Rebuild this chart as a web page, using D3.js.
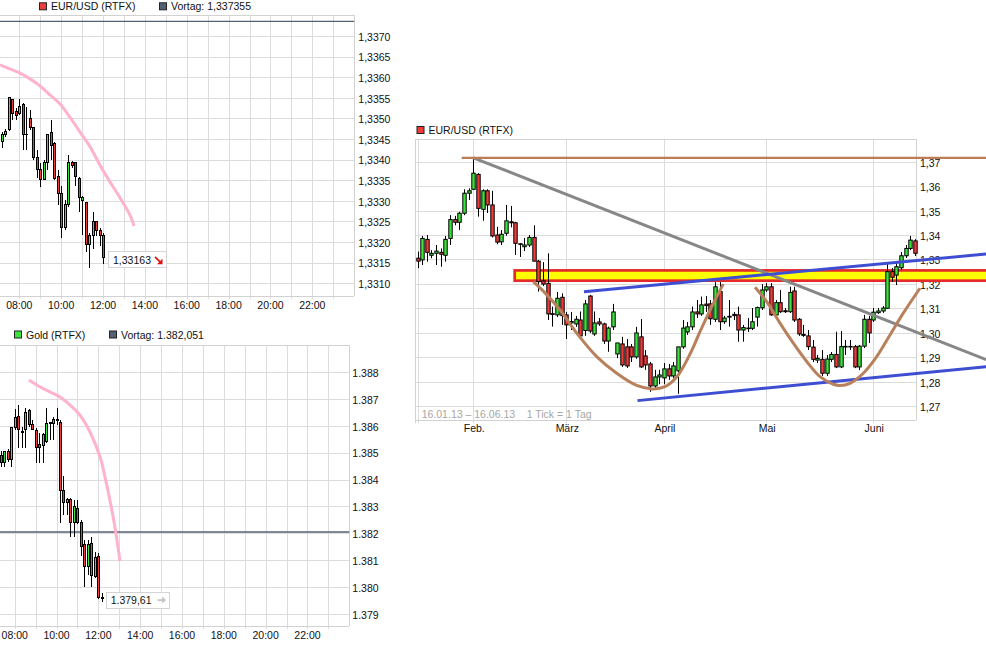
<!DOCTYPE html>
<html lang="de">
<head>
<meta charset="utf-8">
<script src="https://cdn.jsdelivr.net/npm/d3@7/dist/d3.min.js"></script>
<style>
html,body{margin:0;padding:0;background:#fff;}
svg{display:block;}
text{font-family:"Liberation Sans",Arial,sans-serif;font-size:10.5px;fill:#111;}
</style>
</head>
<body>
<svg id="chart" width="986" height="649" viewBox="0 0 986 649"></svg>
<script>
// ---------------- EUR/USD intraday (10-minute candles) ----------------
const eurTimes = ["07:10","07:20","07:30","07:40","07:50","08:00","08:10","08:20","08:30","08:40","08:50","09:00","09:10","09:20","09:30","09:40","09:50","10:00","10:10","10:20","10:30","10:40","10:50","11:00","11:10","11:20","11:30","11:40","11:50","12:00"];
const eurOpen  = [1.33443,1.33462,1.33472,1.33547,1.33516,1.33513,1.33533,1.33460,1.33499,1.33477,1.33406,1.33377,1.33353,1.33392,1.33465,1.33438,1.33358,1.33319,1.33236,1.33292,1.33392,1.33392,1.33355,1.33302,1.33297,1.33195,1.33217,1.33249,1.33229,1.33215];
const eurHigh  = [1.33467,1.33474,1.33550,1.33547,1.33525,1.33547,1.33537,1.33528,1.33520,1.33477,1.33423,1.33392,1.33399,1.33462,1.33496,1.33443,1.33375,1.33336,1.33302,1.33411,1.33397,1.33394,1.33358,1.33312,1.33297,1.33222,1.33273,1.33251,1.33234,1.33222];
const eurLow   = [1.33428,1.33455,1.33469,1.33496,1.33496,1.33508,1.33423,1.33423,1.33472,1.33399,1.33355,1.33334,1.33350,1.33375,1.33399,1.33350,1.33290,1.33210,1.33229,1.33285,1.33380,1.33336,1.33273,1.33217,1.33176,1.33137,1.33183,1.33215,1.33190,1.33147];
const eurClose = [1.33460,1.33469,1.33550,1.33513,1.33508,1.33528,1.33460,1.33462,1.33477,1.33406,1.33377,1.33353,1.33392,1.33460,1.33435,1.33355,1.33319,1.33236,1.33292,1.33392,1.33387,1.33358,1.33309,1.33309,1.33195,1.33217,1.33249,1.33229,1.33217,1.33163];
const eurPrev = 1.337355;
const eurLast = 1.33163;
const eurTrendTimes  = ["07:05","07:33","08:02","08:31","08:59","09:28","09:57","10:25","10:54","11:23","11:51","12:20","12:49","13:17","13:29"];
const eurTrendValues = [1.33630,1.33620,1.33610,1.33596,1.33579,1.33557,1.33535,1.33503,1.33467,1.33431,1.33387,1.33346,1.33307,1.33266,1.33239];
const eurYTicks = [1.3310,1.3315,1.3320,1.3325,1.3330,1.3335,1.3340,1.3345,1.3350,1.3355,1.3360,1.3365,1.3370];

// ---------------- Gold intraday (10-minute candles) ----------------
const goldTimes = ["07:20","07:30","07:40","07:50","08:00","08:10","08:20","08:30","08:40","08:50","09:00","09:10","09:20","09:30","09:40","09:50","10:00","10:10","10:20","10:30","10:40","10:50","11:00","11:10","11:20","11:30","11:40","11:50","12:00","12:10"];
const goldOpen  = [1384.88,1384.65,1385.06,1384.73,1385.92,1386.33,1385.79,1385.88,1386.55,1386.03,1385.84,1385.29,1385.25,1385.40,1386.10,1386.10,1386.20,1386.14,1383.61,1383.13,1383.24,1382.39,1382.94,1382.39,1381.57,1380.75,1381.61,1380.38,1381.12,1379.60];
const goldHigh  = [1385.06,1385.06,1385.14,1385.96,1386.62,1386.77,1385.96,1386.66,1386.62,1386.22,1385.92,1385.73,1385.73,1386.66,1386.14,1386.33,1386.66,1386.22,1384.13,1383.32,1383.32,1383.24,1383.24,1382.50,1381.76,1381.76,1381.87,1381.31,1381.27,1379.78];
const goldLow   = [1384.47,1384.47,1384.65,1384.47,1385.84,1385.17,1385.17,1385.17,1385.96,1385.84,1384.62,1384.62,1384.62,1385.36,1385.47,1385.47,1386.03,1382.39,1382.68,1382.68,1381.87,1381.87,1382.35,1381.16,1380.01,1380.45,1380.01,1380.34,1379.56,1379.45];
const goldClose = [1384.62,1385.03,1384.73,1385.92,1386.29,1385.88,1385.75,1386.48,1386.03,1385.88,1385.21,1385.21,1385.66,1386.10,1386.12,1386.22,1386.22,1383.61,1383.13,1383.24,1382.39,1382.98,1382.42,1381.50,1380.75,1381.57,1380.42,1381.09,1379.60,1379.61];
const goldPrev = 1382.051;
const goldLast = 1379.61;
const goldTrendTimes  = ["08:41","09:13","09:41","10:10","10:39","11:07","11:36","12:05","12:19","12:33","12:48","13:02"];
const goldTrendValues = [1387.70,1387.44,1387.26,1387.07,1386.77,1386.40,1385.77,1384.84,1384.10,1383.24,1382.20,1380.97];
const goldYTicks = [1379,1380,1381,1382,1383,1384,1385,1386,1387,1388];

const hourTicks = ["08:00","10:00","12:00","14:00","16:00","18:00","20:00","22:00"];

// ---------------- EUR/USD daily 16.01.13 - 16.06.13 ----------------
const dayDates = ["16.01","17.01","18.01","21.01","22.01","23.01","24.01","25.01","28.01","29.01","30.01","31.01",
"01.02","04.02","05.02","06.02","07.02","08.02","11.02","12.02","13.02","14.02","15.02","18.02","19.02","20.02","21.02","22.02","25.02","26.02","27.02","28.02",
"01.03","04.03","05.03","06.03","07.03","08.03","11.03","12.03","13.03","14.03","15.03","18.03","19.03","20.03","21.03","22.03","25.03","26.03","27.03","28.03","29.03",
"01.04","02.04","03.04","04.04","05.04","08.04","09.04","10.04","11.04","12.04","15.04","16.04","17.04","18.04","19.04","22.04","23.04","24.04","25.04","26.04","29.04","30.04",
"01.05","02.05","03.05","06.05","07.05","08.05","09.05","10.05","13.05","14.05","15.05","16.05","17.05","20.05","21.05","22.05","23.05","24.05","27.05","28.05","29.05","30.05","31.05",
"03.06","04.06","05.06","06.06","07.06","10.06","11.06","12.06","13.06","14.06"];
const dayOpen = [1.3305,1.3298,1.3382,1.3317,1.3325,1.3329,1.3317,1.3386,1.3463,1.3452,
 1.3489,1.3571,1.3587,1.3648,1.3505,1.3581,1.3523,1.3400,1.3372,1.3407,
 1.3454,1.3450,1.3364,1.3352,1.3359,1.3390,1.3293,1.3212,1.3202,1.3078,
 1.3073,1.3145,1.3073,1.3040,1.3036,1.3052,1.3009,1.3150,1.2995,1.3044,
 1.3036,1.2966,1.3024,1.2913,1.2954,1.2942,1.2942,1.2901,1.2983,1.2905,
 1.2872,1.2782,1.2819,1.2815,1.2852,1.2823,1.2844,1.2942,1.3003,1.3024,
 1.3085,1.3077,1.3117,1.3118,1.3055,1.3168,1.3045,1.3067,1.3075,1.3073,
 1.3011,1.3017,1.3018,1.3064,1.3102,1.3175,1.3188,1.3073,1.3123,1.3090,
 1.3086,1.3171,1.3055,1.2993,1.2987,1.2941,1.2888,1.2891,1.2834,1.2891,
 1.2911,1.2860,1.2943,1.2943,1.2943,1.2860,1.2945,1.3055,1.3052,1.3082,
 1.3089,1.3100,1.3250,1.3236,1.3266,1.3315,1.3345,1.3376];
const dayHigh = [1.3332,1.3396,1.3400,1.3338,1.3359,1.3345,1.3396,1.3481,1.3478,1.3495,
 1.3587,1.3591,1.3714,1.3653,1.3587,1.3587,1.3581,1.3434,1.3420,1.3523,
 1.3519,1.3454,1.3367,1.3388,1.3400,1.3440,1.3298,1.3289,1.3325,1.3107,
 1.3167,1.3161,1.3085,1.3085,1.3069,1.3087,1.3134,1.3154,1.3087,1.3060,
 1.3041,1.3025,1.3118,1.2958,1.2983,1.2974,1.2954,1.3024,1.3056,1.2929,
 1.2880,1.2848,1.2848,1.2876,1.2872,1.2880,1.2942,1.3052,1.3044,1.3107,
 1.3134,1.3148,1.3150,1.3134,1.3207,1.3207,1.3069,1.3134,1.3085,1.3107,
 1.3032,1.3060,1.3101,1.3107,1.3199,1.3203,1.3203,1.3134,1.3175,1.3101,
 1.3188,1.3188,1.3060,1.3032,1.3011,1.2970,1.2909,1.2929,1.2909,1.2921,
 1.3004,1.3007,1.2970,1.2970,1.2950,1.2950,1.3073,1.3069,1.3101,1.3101,
 1.3109,1.3289,1.3265,1.3285,1.3330,1.3359,1.3396,1.3383];
const dayLow = [1.3264,1.3277,1.3291,1.3305,1.3277,1.3270,1.3291,1.3359,1.3440,1.3420,
 1.3481,1.3543,1.3584,1.3475,1.3458,1.3490,1.3390,1.3362,1.3359,1.3397,
 1.3431,1.3318,1.3310,1.3334,1.3351,1.3291,1.3168,1.3191,1.3052,1.3025,
 1.3064,1.3032,1.2974,1.3011,1.3024,1.2973,1.2987,1.2999,1.2987,1.3028,
 1.2954,1.2922,1.3011,1.2896,1.2860,1.2856,1.2880,1.2893,1.2856,1.2848,
 1.2758,1.2766,1.2789,1.2789,1.2807,1.2815,1.2750,1.2934,1.2991,1.3011,
 1.3060,1.3069,1.3085,1.3032,1.3044,1.3011,1.3036,1.3025,1.3052,1.2963,
 1.2963,1.3003,1.3011,1.3025,1.3093,1.3167,1.3069,1.3060,1.3081,1.3081,
 1.3081,1.3044,1.2987,1.2983,1.2929,1.2880,1.2876,1.2823,1.2823,1.2880,
 1.2855,1.2855,1.2909,1.2929,1.2855,1.2847,1.2937,1.2958,1.3044,1.3077,
 1.3081,1.3097,1.3208,1.3195,1.3257,1.3306,1.3338,1.3314];
const dayClose = [1.3293,1.3386,1.3329,1.3325,1.3334,1.3321,1.3382,1.3463,1.3452,1.3489,
 1.3571,1.3581,1.3653,1.3509,1.3581,1.3523,1.3396,1.3371,1.3403,1.3458,
 1.3450,1.3366,1.3362,1.3359,1.3390,1.3293,1.3209,1.3199,1.3077,1.3075,
 1.3141,1.3070,1.3032,1.3046,1.3055,1.2987,1.3118,1.3007,1.3040,1.3036,
 1.2966,1.3019,1.3085,1.2958,1.2868,1.2864,1.2901,1.2999,1.2860,1.2868,
 1.2782,1.2819,1.2827,1.2852,1.2823,1.2864,1.2942,1.3019,1.3024,1.3085,
 1.3077,1.3114,1.3111,1.3057,1.3188,1.3045,1.3060,1.3064,1.3070,1.3011,
 1.3021,1.3019,1.3045,1.3103,1.3175,1.3188,1.3073,1.3123,1.3086,1.3086,
 1.3165,1.3052,1.2995,1.2989,1.2943,1.2891,1.2895,1.2834,1.2892,1.2911,
 1.2860,1.2943,1.2944,1.2944,1.2860,1.2945,1.3055,1.2999,1.3084,1.3089,
 1.3101,1.3250,1.3227,1.3270,1.3315,1.3345,1.3379,1.3325];
const monthTickDates  = ["01.02","01.03","01.04","01.05","03.06"];
const monthTickLabels = ["Feb.","März","April","Mai","Juni"];
const dayYTicks = [1.27,1.28,1.29,1.30,1.31,1.32,1.33,1.34,1.35,1.36,1.37];

// drawn annotations, positions in trading-day units
const resistIdx = [9.5, 122.3];      const resistVal = [1.3716, 1.3716];
const downTrendIdx = [12, 122.3];    const downTrendVal = [1.3716, 1.2890];
const chanUpIdx = [35.8, 122.3];     const chanUpVal = [1.3168, 1.3322];
const chanLowIdx = [47.3, 122.3];    const chanLowVal = [1.2722, 1.2861];
const zoneIdx = [20.9, 122.6];       const zoneVal = [1.3213, 1.3255];
const cup1Idx = [24.90,27.42,30.65,34.24,38.54,42.84,47.14,50.43,53.23,55.91,58.82,60.75,63.33,65.76];
const cup1Val = [1.3209,1.3163,1.3093,1.2998,1.2902,1.2834,1.2784,1.2770,1.2779,1.2823,1.2921,1.3004,1.3109,1.3199];
const cup2Idx = [72.58,75.10,77.96,80.82,83.70,86.56,89.42,90.86,93.01,95.87,98.75,101.61,104.47,108.06];
const cup2Val = [1.3186,1.3127,1.3039,1.2957,1.2882,1.2820,1.2789,1.2784,1.2793,1.2834,1.2902,1.2991,1.3080,1.3182];

// ======================= drawing =======================
const svg = d3.select("#chart");
const loc = d3.formatLocale({decimal:",", thousands:".", grouping:[3], currency:["","\u20ac"]});
const GRID = "#dcdcdc", FRAME = "#d2d2d2", UP = "#3de33d", DOWN = "#f03b3b", PREV = "#566074";
const toH = t => { const p = t.split(":").map(Number); return p[0] + p[1]/60; };
const px = v => Math.round(v) + 0.5;

function drawCandles(g, xs, O, H, L, C, x, y, w, crisp) {
  const data = xs.map((t,i) => ({t, o:O[i], h:H[i], l:L[i], c:C[i]}));
  const cg = g.append("g");
  if (crisp) cg.attr("shape-rendering","crispEdges");
  cg.selectAll("line").data(data).join("line")
    .attr("x1", d => px(x(d.t))).attr("x2", d => px(x(d.t)))
    .attr("y1", d => y(d.h)).attr("y2", d => y(d.l))
    .attr("stroke","#000").attr("stroke-width",1);
  cg.selectAll("rect").data(data).join("rect")
    .attr("x", d => px(x(d.t)) - w/2)
    .attr("y", d => Math.min(y(d.o), y(d.c)))
    .attr("width", w)
    .attr("height", d => Math.max(0.6, Math.abs(y(d.o) - y(d.c))))
    .attr("fill", d => d.c >= d.o ? UP : DOWN)
    .attr("stroke","#000").attr("stroke-width",1);
}

function legend(g, items, y) {
  items.forEach(it => {
    g.append("rect").attr("x", it.x + 0.5).attr("y", y - 7.5).attr("width", 7).attr("height", 7)
      .attr("fill", it.color).attr("stroke", "#222").attr("stroke-width", 1);
    g.append("text").attr("x", it.x + 12).attr("y", y).text(it.label);
  });
}

function intraday(cfg) {
  const g = svg.append("g");
  const f = cfg.frame;
  const x = d3.scaleLinear().domain([8, 24]).range(cfg.xr);
  const y = d3.scaleLinear().domain(cfg.yd).range(cfg.yr);
  const xt = t => x(toH(t));

  // grid
  const gg = g.append("g").attr("shape-rendering","crispEdges");
  gg.selectAll("line.v").data(d3.range(8, 24)).join("line").attr("class","v")
    .attr("x1", d => px(x(d))).attr("x2", d => px(x(d)))
    .attr("y1", f.top).attr("y2", f.bottom + 3).attr("stroke", GRID);
  gg.selectAll("line.h").data(cfg.yTicks).join("line").attr("class","h")
    .attr("x1", f.left).attr("x2", f.right)
    .attr("y1", d => px(y(d))).attr("y2", d => px(y(d))).attr("stroke", GRID);
  gg.append("line").attr("x1", f.left).attr("x2", f.right).attr("y1", px(f.top)).attr("y2", px(f.top)).attr("stroke", FRAME);
  gg.append("line").attr("x1", f.left).attr("x2", f.right).attr("y1", px(f.bottom)).attr("y2", px(f.bottom)).attr("stroke", FRAME);
  gg.append("line").attr("x1", px(f.right)).attr("x2", px(f.right)).attr("y1", f.top).attr("y2", f.bottom).attr("stroke", FRAME);

  // previous close line
  g.append("line").attr("x1", f.left).attr("x2", f.right)
    .attr("y1", y(cfg.prev)).attr("y2", y(cfg.prev))
    .attr("stroke", PREV).attr("stroke-width", 1.4);

  // axes labels
  g.append("g").selectAll("text").data(cfg.yTicks).join("text")
    .attr("x", cfg.labelX).attr("y", d => y(d) + 4.8).text(cfg.yFmt);
  g.append("g").selectAll("text").data(hourTicks).join("text")
    .attr("x", d => xt(d)).attr("y", cfg.xLabelY).attr("text-anchor","middle").text(d => d);

  // candles
  drawCandles(g, cfg.times, cfg.O, cfg.H, cfg.L, cfg.C, xt, y, 2, true);

  // projection curve
  const pts = cfg.trendT.map((t,i) => [xt(t), y(cfg.trendV[i])]);
  g.append("path").datum(pts).attr("d", d3.line().curve(d3.curveCatmullRom))
    .attr("fill","none").attr("stroke","#ffb2cc").attr("stroke-width",3);

  // last price box
  const bx = xt(cfg.times[cfg.times.length-1]) + cfg.boxDx;
  const by = y(cfg.last) - 6;
  g.append("rect").attr("x", px(bx)).attr("y", px(by)).attr("width", cfg.boxW).attr("height", 16)
    .attr("fill","#fff").attr("stroke","#d4d4d4").attr("shape-rendering","crispEdges");
  g.append("text").attr("x", bx + 5).attr("y", by + 12.3).text(cfg.lastFmt(cfg.last));
  const ax = bx + cfg.boxW - 11, ay = by + 8.5;
  if (cfg.arrow === "down") {
    g.append("line").attr("x1", ax).attr("y1", ay - 3).attr("x2", ax + 5).attr("y2", ay + 2)
      .attr("stroke", "#e01010").attr("stroke-width", 1.6);
    g.append("path").attr("d", `M${ax+7.5},${ay+4.5} L${ax+7.5},${ay-1} L${ax+2},${ay+4.5} Z`).attr("fill","#e01010");
  } else {
    g.append("line").attr("x1", ax).attr("y1", ay).attr("x2", ax + 5).attr("y2", ay)
      .attr("stroke", "#c4c4c4").attr("stroke-width", 1.8);
    g.append("path").attr("d", `M${ax+8.5},${ay} L${ax+4.5},${ay-3.5} L${ax+4.5},${ay+3.5} Z`).attr("fill","#c4c4c4");
  }

  legend(g, cfg.legend, cfg.legendY);
}

// Panel 1: EUR/USD intraday
intraday({
  frame: {left: 0, right: 354.2, top: 15.4, bottom: 296},
  xr: [19.3, 354.2], yd: [1.3310, 1.3370], yr: [283.3, 36],
  yTicks: eurYTicks, yFmt: loc.format(".4f"), labelX: 358.3, xLabelY: 308.5,
  times: eurTimes, O: eurOpen, H: eurHigh, L: eurLow, C: eurClose,
  prev: eurPrev, last: eurLast, lastFmt: loc.format(".5f"), boxDx: 5, boxW: 58, arrow: "down",
  trendT: eurTrendTimes, trendV: eurTrendValues,
  legend: [{x: 39, color: "#f03b3b", label: "EUR/USD (RTFX)"},
           {x: 159, color: "#566074", label: "Vortag: " + loc.format(".6f")(eurPrev)}],
  legendY: 10.3
});

// Panel 2: Gold intraday
intraday({
  frame: {left: 0, right: 349.3, top: 345, bottom: 625.7},
  xr: [14.7, 349.3], yd: [1379, 1388], yr: [614, 372],
  yTicks: goldYTicks, yFmt: loc.format(",.0f"), labelX: 352.3, xLabelY: 638.5,
  times: goldTimes, O: goldOpen, H: goldHigh, L: goldLow, C: goldClose,
  prev: goldPrev, last: goldLast, lastFmt: loc.format(",.2f"), boxDx: 3.8, boxW: 63, arrow: "right",
  trendT: goldTrendTimes, trendV: goldTrendValues,
  legend: [{x: 14, color: "#3de33d", label: "Gold (RTFX)"},
           {x: 109, color: "#566074", label: "Vortag: " + loc.format(",.3f")(goldPrev)}],
  legendY: 338.5
});

// Panel 3: EUR/USD daily
(function(){
  const g = svg.append("g");
  const f = {left: 415.5, right: 916, top: 139.3, bottom: 420};
  const x = d3.scaleLinear().domain([0, dayDates.length - 1]).range([417.5, 915.05]);
  const y = d3.scaleLinear().domain([1.27, 1.37]).range([406, 161.7]);
  const monthIdx = monthTickDates.map(d => dayDates.indexOf(d));

  const gg = g.append("g").attr("shape-rendering","crispEdges");
  gg.selectAll("line.h").data(dayYTicks).join("line").attr("class","h")
    .attr("x1", f.left).attr("x2", f.right)
    .attr("y1", d => px(y(d))).attr("y2", d => px(y(d))).attr("stroke", GRID);
  gg.selectAll("line.v").data(monthIdx.concat([0])).join("line").attr("class","v")
    .attr("x1", d => px(x(d))).attr("x2", d => px(x(d)))
    .attr("y1", f.top).attr("y2", f.bottom + 3).attr("stroke", GRID);
  gg.append("line").attr("x1", f.left).attr("x2", f.right).attr("y1", px(f.top)).attr("y2", px(f.top)).attr("stroke", FRAME);
  gg.append("line").attr("x1", f.left).attr("x2", f.right).attr("y1", px(f.bottom)).attr("y2", px(f.bottom)).attr("stroke", FRAME);
  gg.append("line").attr("x1", px(f.left) - 1).attr("x2", px(f.left) - 1).attr("y1", f.top).attr("y2", f.bottom + 3).attr("stroke", FRAME);
  gg.append("line").attr("x1", px(f.right)).attr("x2", px(f.right)).attr("y1", f.top).attr("y2", f.bottom).attr("stroke", FRAME);

  g.append("g").selectAll("text").data(dayYTicks).join("text")
    .attr("x", 920).attr("y", d => y(d) + 5).text(loc.format(".2f"));
  g.append("g").selectAll("text").data(monthIdx).join("text")
    .attr("x", d => x(d) + 1).attr("y", 431.5).attr("text-anchor","middle").text((d,i) => monthTickLabels[i]);
  g.append("text").attr("x", 421.7).attr("y", 418).attr("fill","#a6a6a6").style("fill","#a6a6a6")
    .text("16.01.13 \u2013 16.06.13");
  g.append("text").attr("x", 526.7).attr("y", 418).style("fill","#a6a6a6").text("1 Tick = 1 Tag");

  // support / resistance zone
  const zx = x(zoneIdx[0]), zy = y(zoneVal[1]);
  g.append("rect").attr("x", zx).attr("y", zy)
    .attr("width", x(zoneIdx[1]) - zx).attr("height", y(zoneVal[0]) - zy)
    .attr("fill", "#ffff00").attr("stroke", "#e52a2a").attr("stroke-width", 2.7);

  drawCandles(g, d3.range(dayDates.length), dayOpen, dayHigh, dayLow, dayClose, x, y, 3.4, false);

  const line = d3.line().x(d => x(d[0])).y(d => y(d[1]));
  const curve = d3.line().x(d => x(d[0])).y(d => y(d[1])).curve(d3.curveCatmullRom);
  const zip = (a, b) => a.map((v, i) => [v, b[i]]);

  g.append("path").datum(zip(downTrendIdx, downTrendVal)).attr("d", line)
    .attr("fill","none").attr("stroke","#878787").attr("stroke-width",3);
  g.append("path").datum(zip(chanUpIdx, chanUpVal)).attr("d", line)
    .attr("fill","none").attr("stroke","#3e4ed2").attr("stroke-width",3);
  g.append("path").datum(zip(chanLowIdx, chanLowVal)).attr("d", line)
    .attr("fill","none").attr("stroke","#3e4ed2").attr("stroke-width",3);
  g.append("path").datum(zip(cup1Idx, cup1Val)).attr("d", curve)
    .attr("fill","none").attr("stroke","#b9805c").attr("stroke-width",3);
  g.append("path").datum(zip(cup2Idx, cup2Val)).attr("d", curve)
    .attr("fill","none").attr("stroke","#b9805c").attr("stroke-width",3);
  g.append("path").datum(zip(resistIdx, resistVal)).attr("d", line)
    .attr("fill","none").attr("stroke","#bf7b55").attr("stroke-width",2.2);

  legend(g, [{x: 416.5, color: "#f03b3b", label: "EUR/USD (RTFX)"}], 134);
})();
</script>
</body>
</html>
